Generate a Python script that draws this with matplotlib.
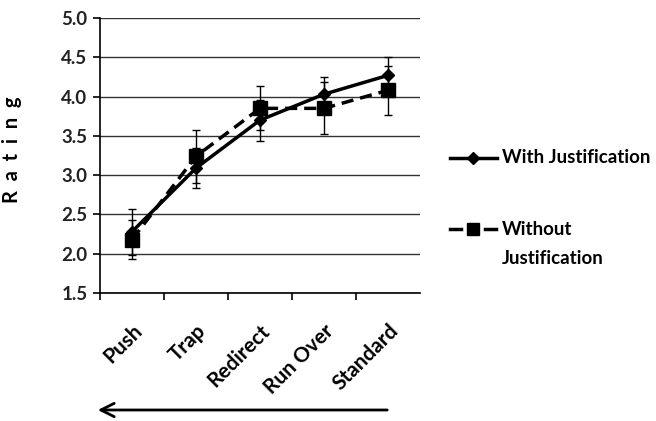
import numpy as np
import matplotlib.pyplot as plt
from matplotlib.lines import Line2D

categories = ["Push", "Trap", "Redirect", "Run Over", "Standard"]
with_just = [2.28, 3.09, 3.70, 4.03, 4.27]
with_err = [0.29, 0.26, 0.26, 0.22, 0.23]
without_just = [2.18, 3.24, 3.85, 3.85, 4.08]
without_err = [0.25, 0.34, 0.28, 0.33, 0.31]
yticks = [1.5, 2.0, 2.5, 3.0, 3.5, 4.0, 4.5, 5.0]

plt.rcParams['font.family'] = ['Lato', 'DejaVu Sans']

W, H = 656, 421
fig = plt.figure(figsize=(W / 100, H / 100), dpi=100)
ax = fig.add_axes([100 / W, 1 - 293 / H, 320 / W, 275 / H])

x = np.arange(len(categories))
ax.errorbar(x, with_just, yerr=with_err, color='black', lw=2.5, marker='D',
            ms=6, capsize=3, elinewidth=1, capthick=1, zorder=3)
ax.errorbar(x, without_just, yerr=without_err, color='black', lw=2.5, ls='--',
            dashes=(3.5, 2), marker='s', ms=10, capsize=3, elinewidth=1, capthick=1,
            zorder=3)

ax.set_ylim(1.5, 5.0)
ax.set_xlim(-0.5, 4.5)
ax.set_yticks(yticks)
ax.set_yticklabels([f"{v:.1f}" for v in yticks], fontsize=13.5, fontweight='bold', color='#222222')
ax.set_xticks(x)
ax.set_xticklabels(categories, rotation=45, ha='right', va='top', rotation_mode='anchor',
                   fontsize=15, fontweight='bold')
ax.tick_params(axis='x', length=0, pad=20)
ax.set_xticks(np.arange(-0.5, 4.0, 1.0), minor=True)
ax.tick_params(axis='x', which='minor', length=5, direction='out', width=1.2)
ax.tick_params(axis='y', length=5, width=1.2, direction='out', pad=4)
ax.grid(axis='y', color='#333333', lw=1)
ax.set_axisbelow(True)
for s in ['top', 'right']:
    ax.spines[s].set_visible(False)
for s in ['left', 'bottom']:
    ax.spines[s].set_linewidth(1.2)

ax.set_ylabel("R  a  t  i  n  g", fontsize=14.5, fontweight='bold')
ax.yaxis.set_label_coords((22 - 100) / 320, (293 - 150) / 275)

# legend drawn by hand so the handle lines up with the first text line
def fx(px):
    return px / W

def fy(py):
    return 1 - py / H

fig.add_artist(Line2D([fx(450), fx(497)], [fy(158), fy(158)], color='black', lw=2.5))
fig.add_artist(Line2D([fx(473)], [fy(158)], color='black', marker='D', ms=6))
fig.text(fx(502), fy(158), "With Justification", fontsize=13.5, fontweight='bold', va='center')
fig.add_artist(Line2D([fx(450), fx(461)], [fy(229), fy(229)], color='black', lw=2.5))
fig.add_artist(Line2D([fx(485), fx(496)], [fy(229), fy(229)], color='black', lw=2.5))
fig.add_artist(Line2D([fx(473)], [fy(229)], color='black', marker='s', ms=8))
fig.text(fx(502), fy(229), "Without", fontsize=13.5, fontweight='bold', va='center')
fig.text(fx(502), fy(258), "Justification", fontsize=13.5, fontweight='bold', va='center')

ax.annotate("", xy=(fx(95), fy(410)), xytext=(fx(390), fy(410)),
            xycoords='figure fraction', textcoords='figure fraction',
            arrowprops=dict(arrowstyle='->', lw=2, color='black', mutation_scale=24))

fig.savefig("out.png", dpi=100)
